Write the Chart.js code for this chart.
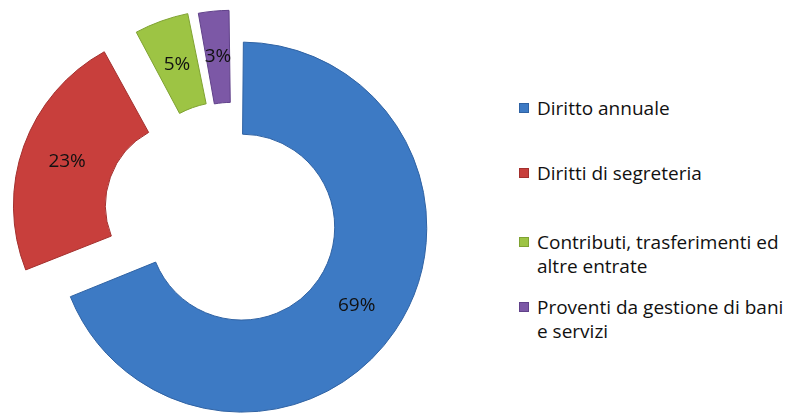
<!DOCTYPE html>
<html>
<head>
<meta charset="utf-8">
<script src="https://cdn.jsdelivr.net/npm/chart.js@4/dist/chart.umd.min.js"></script>
<style>
    html, body { margin: 0; padding: 0; background: #fff; }
    #wrap { position: relative; width: 794px; height: 416px; overflow: hidden; background: #fff; }
    #holder { position: absolute; left: -37px; top: -49px; width: 541px; height: 541px; }
    #legend { position: absolute; left: 519px; top: 0; width: 275px; height: 416px;
        font-family: "Open Sans", sans-serif; font-size: 19px; color: #111; }
    .item { position: absolute; left: 0; line-height: 24px; padding-left: 18px; white-space: nowrap; }
    .item:nth-child(1) { top: 96px; }
    .item:nth-child(2) { top: 161px; }
    .item:nth-child(3) { top: 230px; }
    .item:nth-child(4) { top: 295px; }
    .box { position: absolute; left: 0; top: 7px; width: 10px; height: 10px; box-sizing: border-box; }
</style>
</head>
<body>
<div id="wrap">
    <div id="holder"><canvas id="donut"></canvas></div>
    <div id="legend"></div>
</div>
<script>
const categories = [
    'Diritto annuale',
    'Diritti di segreteria',
    ['Contributi, trasferimenti ed', 'altre entrate'],
    ['Proventi da gestione di bani', 'e servizi']
];
const shares = [69, 23, 5, 3];
const fills = ['#3d7ac4', '#c83f3c', '#9dc444', '#7c58a6'];
const edges = ['#2f62a3', '#a3302e', '#7fa232', '#61428a'];
const explode = [40, 190, 90, 80];

// percent labels in the middle of each (exploded) ring piece
const pieceLabels = {
    id: 'pieceLabels',
    afterDatasetsDraw(chart) {
        const ctx = chart.ctx;
        const arcs = chart.getDatasetMeta(0).data;
        ctx.save();
        ctx.font = '19px "Open Sans", sans-serif';
        ctx.fillStyle = '#111';
        ctx.textAlign = 'center';
        ctx.textBaseline = 'middle';
        arcs.forEach((arc, i) => {
            const shift = (arc.options.offset || 0) / 4;
            const circ = arc.endAngle - arc.startAngle;
            const grow = shift * (1 - Math.sin(Math.min(Math.PI, circ)));
            const mid = (arc.startAngle + arc.endAngle) / 2;
            const r = (arc.innerRadius + arc.outerRadius) / 2 + grow + shift;
            ctx.fillText(shares[i] + '%', arc.x + Math.cos(mid) * r, arc.y + Math.sin(mid) * r);
        });
        ctx.restore();
    }
};

const chart = new Chart(document.getElementById('donut'), {
    type: 'doughnut',
    data: {
        labels: categories,
        datasets: [{
            data: shares,
            backgroundColor: fills,
            borderColor: edges,
            borderWidth: 1,
            offset: explode,
            hoverOffset: 0
        }]
    },
    options: {
        responsive: true,
        maintainAspectRatio: false,
        animation: false,
        cutout: '47.4%',
        layout: { padding: 0 },
        plugins: {
            legend: { display: false },
            tooltip: { enabled: false }
        }
    },
    plugins: [pieceLabels]
});

// legend on the right
const legend = document.getElementById('legend');
categories.forEach((name, i) => {
    const lines = Array.isArray(name) ? name : [name];
    const item = document.createElement('div');
    item.className = 'item';
    item.innerHTML = `<span class="box" style="background:${fills[i]};border:1px solid ${edges[i]}"></span>` +
        lines.join('<br>');
    legend.appendChild(item);
});
</script>
</body>
</html>
